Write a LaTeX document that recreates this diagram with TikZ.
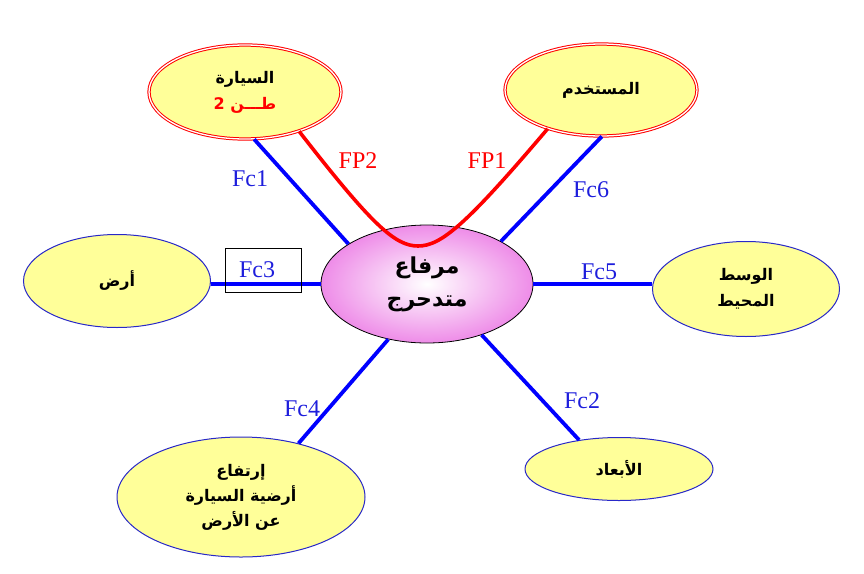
\documentclass[tikz,border=0pt]{standalone}
\usepackage{fontspec}
\setmainfont{Liberation Serif}
\newfontfamily\arabicfont[Script=Arabic]{DejaVu Sans}
\TeXXeTstate=1
\usetikzlibrary{shapes.geometric}
\definecolor{yel}{RGB}{255,255,153}
\definecolor{pinkout}{RGB}{238,140,232}
\definecolor{bord}{RGB}{40,40,200}
\definecolor{lineblue}{RGB}{0,0,255}
\definecolor{labblue}{RGB}{30,30,220}
\tikzset{
 oval/.style={ellipse, fill=yel, draw=bord, line width=1pt, inner sep=0pt, align=center,
   font=\arabicfont\bfseries\fontsize{16}{26}\selectfont},
 redoval/.style={oval, draw=red, line width=1pt, double=white, double distance=1.3pt},
 fcline/.style={draw=lineblue, line width=3.8pt},
 fpline/.style={draw=red, line width=3.6pt},
 fclab/.style={text=labblue, font=\fontsize{24}{24}\selectfont, inner sep=1pt},
 fplab/.style={text=red, font=\fontsize{24}{24}\selectfont, inner sep=1pt},
}
\begin{document}
\begin{tikzpicture}[x=1pt,y=-1pt]
\useasboundingbox (0,0) rectangle (864,573);
% nodes
\node[redoval, minimum width=192pt, minimum height=94pt] (car) at (245,92)
  {\beginR السيارة\endR\\{\color{red}2 \beginR طـــن\endR}};
\node[redoval, minimum width=192pt, minimum height=92pt] (user) at (601,90)
  {\beginR المستخدم\endR};
\node[oval, minimum width=187pt, minimum height=93pt] (gnd) at (117,281)
  {\beginR أرض\endR};
\node[oval, minimum width=187pt, minimum height=95pt] (env) at (746,289)
  {\beginR الوسط\endR\\\beginR المحيط\endR};
\node[oval, minimum width=188pt, minimum height=63pt] (dims) at (619,469)
  {\beginR الأبعاد\endR};
\node[oval, minimum width=248pt, minimum height=120pt, font=\arabicfont\bfseries\fontsize{16}{25}\selectfont] (alt) at (241,497)
  {\beginR إرتفاع\endR\\\beginR أرضية السيارة\endR\\\beginR عن الأرض\endR};
\node[ellipse, draw=black, line width=0.8pt, shading=radial, inner color=white, outer color=pinkout,
  minimum width=212pt, minimum height=118pt, inner sep=0pt, align=center,
  font=\arabicfont\bfseries\fontsize{22}{33}\selectfont] (lev) at (427,284)
  {\beginR مرفاع\endR\\\beginR متدحرج\endR};
% connectors
\coordinate (bot) at (418,246);
\draw[fcline] (car.-79) -- (lev.153);
\draw[fcline] (user.-89) -- (lev.30);
\draw[fcline] (lev.west) -- (lev.west -| gnd.east);
\draw[fcline] (lev.east) -- (lev.east -| env.west);
\draw[fcline] (alt.43) -- (lev.-125.5);
\draw[fcline] (dims.144) -- (lev.-43.4);
\draw[fpline] (car.-36) .. controls (372,225) and (395,246) .. (bot)
  .. controls (441,246) and (466,225) .. (user.-144);
% labels
\node[fclab] (l1) at (250,179) {Fc1};
\node[fplab] (l2) at (358,161) {FP2};
\node[fplab] (l3) at (487,161) {FP1};
\node[fclab] (l4) at (591,190) {Fc6};
\node[fclab, draw=black, line width=0.7pt, text width=48pt, inner xsep=14pt, minimum height=44pt, align=left] (l5) at (263,270) {Fc3};
\node[fclab] (l6) at (599,272) {Fc5};
\node[fclab] (l7) at (302,409) {Fc4};
\node[fclab] (l8) at (582,401) {Fc2};
\end{tikzpicture}
\end{document}
